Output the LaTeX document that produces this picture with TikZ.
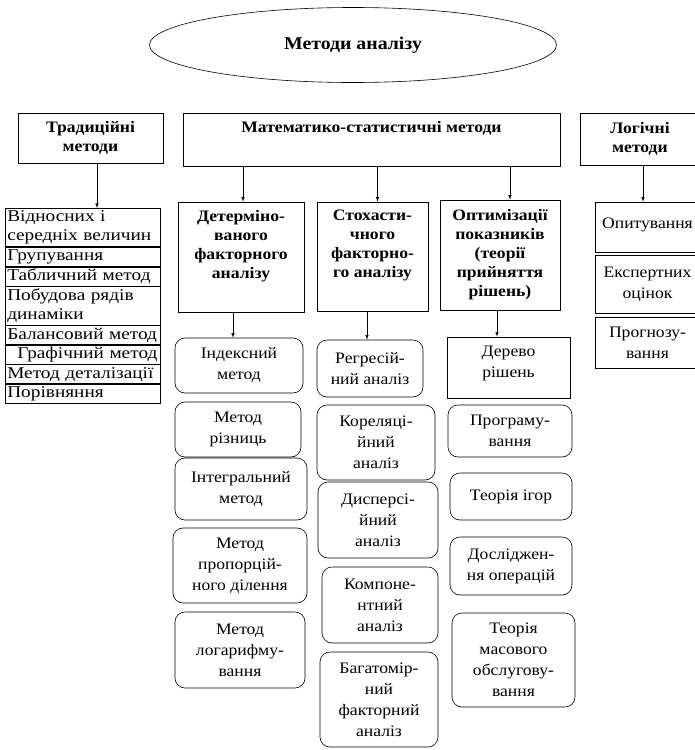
\documentclass[tikz,border=0pt]{standalone}
\usepackage{fontspec}
\setmainfont{Liberation Serif}[FakeStretch=1.1]
\newfontfamily\listfont{Liberation Serif}[FakeStretch=1.17]
\usetikzlibrary{shapes.geometric}

\begin{document}
\begin{tikzpicture}[>=latex, x=1pt, y=-1pt, line width=0.6pt,
  every node/.style={font=\fontsize{16}{21}\selectfont, inner sep=1pt},
  headbox/.style={draw, rectangle, align=center, font=\fontsize{16}{19}\selectfont\bfseries},
  plainbox/.style={draw, rectangle, align=center},
  roundbox/.style={draw, rectangle, rounded corners=10pt, align=center},
  listrow/.style={draw, rectangle, anchor=north west, minimum width=155pt, text width=151pt, align=left, inner xsep=2pt, inner ysep=0pt, font=\listfont\fontsize{16.5}{18.5}\selectfont}]
\useasboundingbox (0,0) rectangle (695,750);

\node[draw, ellipse, inner sep=0pt, minimum width=407pt, minimum height=75pt, font=\fontsize{18}{20}\selectfont\bfseries] (root) at (353,45) {Методи аналізу};

% верхній рівень
\node[headbox, minimum width=145pt, minimum height=50pt] (trad) at (90.5,138) {Традиційні\\методи};
\node[headbox, minimum width=377pt, minimum height=53pt] (math) at (371.5,139.5) {Математико-статистичні методи\\ \strut};
\node[headbox, minimum width=120pt, minimum height=52pt] (logic) at (640,139) {Логічні\\методи};

% традиційні методи
\node[listrow, minimum height=38.4pt] (r1) at (5,208) {Відносних і\\середніх величин};
\node[listrow, minimum height=19pt] (r2) at (r1.south west) {Групування};
\node[listrow, minimum height=19pt] (r3) at (r2.south west) {Табличний метод};
\node[listrow, minimum height=38.4pt] (r4) at (r3.south west) {Побудова рядів\\динаміки};
\node[listrow, minimum height=19pt] (r5) at (r4.south west) {Балансовий метод};
\node[listrow, minimum height=19pt] (r6) at (r5.south west) {\hspace{10pt}Графічний метод};
\node[listrow, minimum height=19pt] (r7) at (r6.south west) {Метод деталізації};
\node[listrow, minimum height=19pt] (r8) at (r7.south west) {Порівняння};
\draw[->] ([xshift=6.5pt]trad.south) -- ([xshift=6.5pt]trad.south |- r1.north);

% математико-статистичні методи
\node[headbox, minimum width=126pt, minimum height=110pt] (determ) at (241,257) {Детерміно-\\ваного\\факторного\\аналізу\\ \strut};
\node[headbox, minimum width=111pt, minimum height=109pt] (stoch) at (372.5,256.5) {Стохасти-\\чного\\факторно-\\го аналізу\\ \strut};
\node[headbox, minimum width=120pt, minimum height=110pt] (optim) at (500,255) {Оптимізації\\показників\\(теорії\\прийняття\\рішень)};
\draw[->] ([xshift=2pt]determ.north |- math.south) -- ([xshift=2pt]determ.north);
\draw[->] ([xshift=5pt]stoch.north |- math.south) -- ([xshift=5pt]stoch.north);
\draw[->] ([xshift=10pt]optim.north |- math.south) -- ([xshift=10pt]optim.north);

% детермінований аналіз
\node[roundbox, minimum width=128pt, minimum height=55pt] (idx) at (239,365.5) {Індексний\\метод};
\node[roundbox, minimum width=126pt, minimum height=55pt] (rizn) at (238,429.5) {Метод\\різниць};
\node[roundbox, minimum width=132pt, minimum height=62pt] (integr) at (241,489) {Інтегральний\\метод};
\node[roundbox, minimum width=134pt, minimum height=75pt] (prop) at (240,565.5) {Метод\\пропорцій-\\ного ділення};
\node[roundbox, minimum width=130pt, minimum height=76pt] (logar) at (240,650) {Метод\\логарифму-\\вання};
\draw[->] ([xshift=-8pt]determ.south) -- ([xshift=-8pt]determ.south |- idx.north);

% стохастичний аналіз
\node[roundbox, minimum width=106pt, minimum height=57pt] (regr) at (370,368.5) {Регресій-\\ний аналіз};
\node[roundbox, minimum width=118pt, minimum height=75pt] (korel) at (376,442.5) {Кореляці-\\йний\\аналіз};
\node[roundbox, minimum width=120pt, minimum height=76pt] (disp) at (378,520) {Дисперсі-\\йний\\аналіз};
\node[roundbox, minimum width=116pt, minimum height=76pt] (komp) at (380,605) {Компоне-\\нтний\\аналіз};
\node[roundbox, minimum width=118pt, minimum height=95pt] (bagat) at (379,699.5) {Багатомір-\\ний\\факторний\\аналіз};
\draw[->] ([xshift=-5.5pt]stoch.south) -- ([xshift=-5.5pt]stoch.south |- regr.north);

% оптимізація
\node[plainbox, minimum width=123pt, minimum height=61pt] (derevo) at (508.5,367.5) {Дерево\\рішень\\[-9pt]};
\node[roundbox, minimum width=124pt, minimum height=52pt] (progr) at (510,431) {Програму-\\вання};
\node[roundbox, minimum width=122pt, minimum height=47pt] (igor) at (511,496.5) {Теорія ігор};
\node[roundbox, minimum width=122pt, minimum height=58pt] (dosl) at (511,566) {Досліджен-\\ня операцій};
\node[roundbox, minimum width=123pt, minimum height=94pt] (masov) at (513.5,660) {Теорія\\масового\\обслугову-\\вання};
\draw[->] ([xshift=-3pt]optim.south) -- ([xshift=-3pt]optim.south |- derevo.north);

% логічні методи
\node[plainbox, minimum width=105pt, minimum height=50pt] (opyt) at (647.5,227) {Опитування\\[-13pt]};
\node[plainbox, minimum width=105pt, minimum height=58pt] (expert) at (647.5,284) {Експертних\\оцінок};
\node[plainbox, minimum width=105pt, minimum height=51pt] (prognoz) at (647.5,342.5) {Прогнозу-\\вання};
\draw[->] ([xshift=3pt]logic.south) -- ([xshift=3pt]logic.south |- opyt.north);
\end{tikzpicture}
\end{document}
